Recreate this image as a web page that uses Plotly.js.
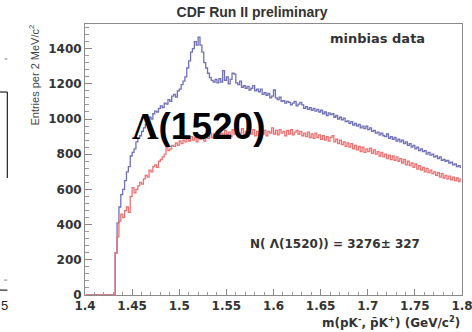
<!DOCTYPE html>
<html>
<head>
<meta charset="utf-8">
<script src="https://cdn.plot.ly/plotly-3.0.1.min.js"></script>
<style>
  html, body { margin: 0; padding: 0; background: #fff; }
  #chart { width: 472px; height: 332px; }
</style>
</head>
<body>
<div id="chart"></div>
<script>
// Histogram binning: 2 MeV/c^2 bins from 1.40 to 1.80 GeV/c^2
var binLow = 1.400;
var binWidth = 0.002;
var nBins = 200;

// Upper (blue) histogram: entries per bin
var blueEntries = [
  0,0,0,0,0,0,0,0,0,0, 0,0,0,0,0,0,
  240,410,500,570,600,650,700,730,790,810,
  830,870,890,905,930,950,970,990,1010,1000,
  1030,1045,1040,1060,1075,1065,1090,1085,1110,1100,
  1130,1140,1125,1160,1170,1195,1215,1240,1290,1330,
  1380,1400,1440,1420,1465,1420,1380,1320,1290,1260,
  1235,1220,1210,1225,1205,1230,1210,1275,1220,1240,
  1200,1225,1260,1255,1205,1195,1215,1180,1190,1175,
  1185,1165,1175,1190,1160,1170,1155,1170,1140,1150,
  1135,1145,1120,1130,1165,1120,1110,1125,1100,1105,
  1090,1100,1095,1080,1090,1100,1075,1085,1095,1080,
  1060,1070,1055,1065,1050,1060,1045,1055,1040,1050,
  1030,1040,1020,1035,1025,1030,1010,1020,1000,1010,
  995,1005,985,990,975,985,965,975,960,970,
  950,960,945,960,940,950,930,935,920,925,
  910,920,905,900,915,890,900,885,895,875,
  885,870,880,860,870,850,860,840,850,830,
  840,820,830,815,820,800,810,795,800,785,
  790,775,785,765,770,760,765,750,755,740,
  745,730,735,725
];

// Lower (red) histogram: entries per bin
var redEntries = [
  0,0,0,0,0,0,0,0,0,0, 0,0,0,0,0,0,
  240,330,420,460,440,480,500,470,560,610,
  580,600,620,640,630,660,680,670,710,700,
  730,740,725,760,770,785,800,840,820,830,
  850,845,865,850,875,860,880,870,890,875,
  900,880,895,870,905,885,900,875,910,890,
  920,895,915,900,930,905,920,895,935,910,
  925,900,940,915,930,905,920,945,910,930,
  900,925,915,940,905,930,910,945,915,935,
  905,930,920,950,915,935,910,940,920,930,
  905,935,915,940,910,925,935,915,930,905,
  920,900,925,895,915,890,920,895,910,885,
  905,880,900,875,895,905,870,885,860,880,
  855,870,845,865,840,860,830,850,825,845,
  815,840,810,830,815,835,805,825,800,815,
  790,810,785,800,775,795,770,790,765,785,
  760,775,750,770,740,760,735,750,725,745,
  715,735,710,725,700,720,695,710,690,700,
  680,695,670,690,665,680,660,675,655,670,
  650,665,645,660
];

// Axis tick labels
var xTickVals = [1.4, 1.45, 1.5, 1.55, 1.6, 1.65, 1.7, 1.75, 1.8];
var xTickText = ['1.4', '1.45', '1.5', '1.55', '1.6', '1.65', '1.7', '1.75', '1.8'];
var yTickVals = [0, 200, 400, 600, 800, 1000, 1200, 1400];
var yTickText = ['0', '200', '400', '600', '800', '1000', '1200', '1400'];

// Bin centres
var binCenters = [];
for (var i = 0; i < nBins; i++) {
  binCenters.push(+(binLow + binWidth * (i + 0.5)).toFixed(4));
}

var blueTrace = {
  x: binCenters, y: blueEntries, type: 'scatter', mode: 'lines',
  line: { shape: 'hvh', color: '#7070b8', width: 1.3 },
  hoverinfo: 'skip', showlegend: false
};
var redTrace = {
  x: binCenters, y: redEntries, type: 'scatter', mode: 'lines',
  line: { shape: 'hvh', color: '#ec7272', width: 1.3 },
  hoverinfo: 'skip', showlegend: false
};

var tickFont = { family: 'DejaVu Sans, sans-serif', size: 12, color: '#333', weight: 'bold' };

var layout = {
  width: 472, height: 332,
  margin: { l: 85, r: 10, t: 24, b: 37 },
  paper_bgcolor: '#ffffff', plot_bgcolor: '#ffffff',
  title: {
    text: 'CDF Run II preliminary',
    font: { family: 'Liberation Sans, Arial, sans-serif', size: 14, color: '#333', weight: 'bold' },
    xref: 'paper', x: 0.443, xanchor: 'center',
    yref: 'container', y: 0.963, yanchor: 'middle'
  },
  xaxis: {
    range: [1.4, 1.8], showgrid: false, zeroline: false,
    showline: true, mirror: true, linecolor: '#8a8a8a', linewidth: 1,
    ticks: 'inside', ticklen: 6, tickcolor: '#888', tickwidth: 1,
    tickmode: 'array', tickvals: xTickVals, ticktext: xTickText,
    tickfont: tickFont, ticklabeloverflow: 'allow',
    minor: { dtick: 0.01, ticks: 'inside', ticklen: 3, tickcolor: '#999', showgrid: false }
  },
  yaxis: {
    range: [0, 1540], showgrid: false, zeroline: false,
    showline: true, mirror: true, linecolor: '#8a8a8a', linewidth: 1,
    ticks: 'inside', ticklen: 7, tickcolor: '#888', tickwidth: 1,
    tickmode: 'array', tickvals: yTickVals, ticktext: yTickText,
    tickfont: tickFont, ticklabeloverflow: 'allow',
    minor: { dtick: 40, ticks: 'inside', ticklen: 4, tickcolor: '#999', showgrid: false }
  },
  annotations: [
    {
      text: 'minbias data', xref: 'paper', yref: 'paper', x: 0.777, y: 0.948,
      xanchor: 'center', yanchor: 'middle', showarrow: false,
      font: { family: 'DejaVu Sans, sans-serif', size: 13, color: '#333', weight: 'bold' }
    },
    {
      text: '<span style="font-family:\'Liberation Serif\', serif">Λ</span>(1520)',
      xref: 'paper', yref: 'paper', x: 0.302, y: 0.62,
      xanchor: 'center', yanchor: 'middle', showarrow: false,
      font: { family: 'Liberation Sans, Arial, sans-serif', size: 37, color: '#000', weight: 'bold' }
    },
    {
      text: 'N( Λ(1520)) = 3276± 327', xref: 'paper', yref: 'paper', x: 0.663, y: 0.188,
      xanchor: 'center', yanchor: 'middle', showarrow: false,
      font: { family: 'DejaVu Sans, sans-serif', size: 12, color: '#333', weight: 'bold' }
    },
    {
      text: 'm(pK<sup>-</sup>, p\u0304K<sup>+</sup>) (GeV/c<sup>2</sup>)',
      xref: 'paper', yref: 'paper', x: 1.0, y: -0.1,
      xanchor: 'right', yanchor: 'middle', showarrow: false,
      font: { family: 'DejaVu Sans, sans-serif', size: 12, color: '#333', weight: 'bold' }
    },
    {
      text: 'Entries per 2 MeV/c<sup>2</sup>', textangle: -90,
      xref: 'paper', yref: 'paper', x: -0.158, y: 1.005,
      xanchor: 'left', yanchor: 'top', showarrow: false,
      font: { family: 'Liberation Sans, Arial, sans-serif', size: 11, color: '#444' }
    },
    {
      // residue of the neighbouring figure, cut at the left edge of the image
      text: '5', xref: 'paper', yref: 'paper', x: -0.227, y: -0.04,
      xanchor: 'left', yanchor: 'middle', showarrow: false,
      font: { family: 'Liberation Sans, Arial, sans-serif', size: 13, color: '#222' }
    }
  ],
  shapes: [
    // residue of the neighbouring figure, cut at the left edge of the image
    { type: 'line', xref: 'paper', yref: 'paper', x0: -0.226, x1: -0.206, y0: 0.749, y1: 0.749, line: { color: '#222', width: 1.2 } },
    { type: 'line', xref: 'paper', yref: 'paper', x0: -0.206, x1: -0.206, y0: 0.749, y1: 0.432, line: { color: '#222', width: 1.2 } },
    { type: 'line', xref: 'paper', yref: 'paper', x0: -0.213, x1: -0.206, y0: 0.871, y1: 0.871, line: { color: '#777', width: 1 } },
    { type: 'line', xref: 'paper', yref: 'paper', x0: -0.226, x1: -0.206, y0: 0.018, y1: 0.018, line: { color: '#222', width: 1.2 } },
    { type: 'line', xref: 'paper', yref: 'paper', x0: -0.215, x1: -0.206, y0: 0.055, y1: 0.055, line: { color: '#888', width: 1 } }
  ]
};

Plotly.newPlot('chart', [blueTrace, redTrace], layout, { staticPlot: true, displayModeBar: false });
</script>
</body>
</html>
